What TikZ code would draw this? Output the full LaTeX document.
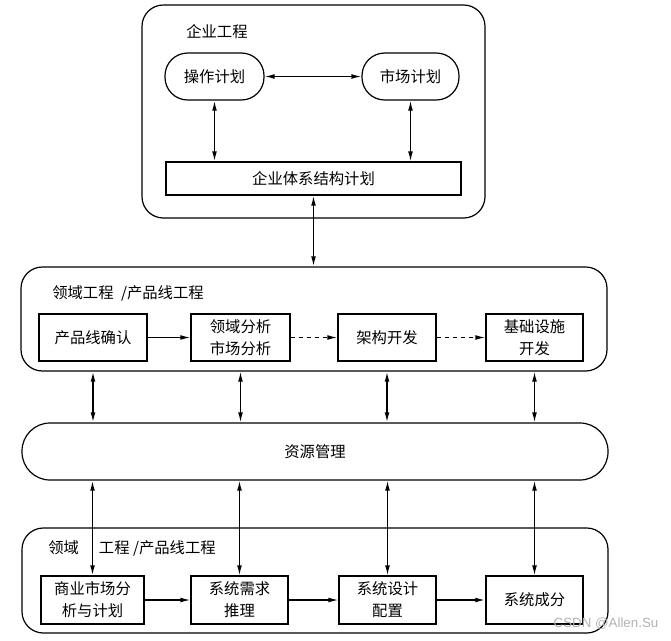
\documentclass[tikz,border=0pt]{standalone}
\usepackage{fontspec}
\usepackage{xcolor}
\setmainfont{Noto Sans CJK SC}
\newfontfamily\markfont{Liberation Sans}
\usetikzlibrary{arrows.meta}

\begin{document}
\begin{tikzpicture}[x=0.75pt,y=0.75pt,yscale=-1,xscale=1,
  every node/.style={font=\fontsize{11.5pt}{16.5pt}\selectfont},
  frame/.style={draw, line width=0.9pt, rounded corners=16pt, inner sep=0pt},
  pill/.style={draw, line width=0.9pt, rounded corners=17pt, minimum height=35.25pt, inner sep=0pt},
  box/.style={draw, line width=0.9pt, inner sep=0pt, align=center},
  link/.style={line width=0.9pt, -{Latex[length=7.5pt,width=3.6pt]}},
  dlink/.style={line width=0.9pt, {Latex[length=7.5pt,width=3.6pt]}-{Latex[length=7.5pt,width=3.6pt]}}
]
\useasboundingbox (0,0) rectangle (671,640);

%Shape: Rounded Rect [id:ent] 
\node [frame, minimum width=257.25pt, minimum height=159.75pt] (ent) at (313.5,111.5) {};
%Shape: Rounded Rect [id:dom] 
\node [frame, minimum width=439.5pt, minimum height=78pt] (dom) at (314,319) {};
%Shape: Rounded Rect [id:res] 
\node [frame, rounded corners=21pt, minimum width=439.5pt, minimum height=42.75pt] (res) at (315,451.5) {资源管理};
%Shape: Rounded Rect [id:app] 
\node [frame, minimum width=439.5pt, minimum height=78.75pt] (app) at (315,580.5) {};

%Shape: Pill [id:op] 
\node [pill, minimum width=74.25pt] (op) at (214.5,76.5) {操作计划};
%Shape: Pill [id:mp] 
\node [pill, minimum width=72.75pt] (mp) at (410.5,76.5) {市场计划};
%Shape: Rectangle [id:ea] 
\node [box, minimum width=221.25pt, minimum height=24.75pt] (ea) at (313.5,178.5) {企业体系结构计划};

%Shape: Rectangle [id:pl] 
\node [box, minimum width=81pt, minimum height=35.25pt] (pl) at (93,337.5) {产品线确认};
%Shape: Rectangle [id:da] 
\node [box, minimum width=74.25pt, minimum height=35.25pt] (da) at (240.5,337.5) {领域分析\\市场分析};
%Shape: Rectangle [id:ad] 
\node [box, minimum width=73.5pt, minimum height=35.25pt] (ad) at (387,337.5) {架构开发};
%Shape: Rectangle [id:inf] 
\node [box, minimum width=72.75pt, minimum height=35.25pt] (inf) at (534.5,337.5) {基础设施\\开发};

%Shape: Rectangle [id:bm] 
\node [box, minimum width=77.25pt, minimum height=36pt] (bm) at (92.5,600) {商业市场分\\析与计划};
%Shape: Rectangle [id:sr] 
\node [box, minimum width=72.75pt, minimum height=36pt] (sr) at (239.5,600) {系统需求\\推理};
%Shape: Rectangle [id:sd] 
\node [box, minimum width=72.75pt, minimum height=36pt] (sd) at (387.5,600) {系统设计\\配置};
%Shape: Rectangle [id:sc] 
\node [box, minimum width=72.75pt, minimum height=36pt] (sc) at (534.5,600) {系统成分};

%Straight Lines [id:top] 
\draw [dlink] (op.east) -- (mp.west) ;
\draw [dlink, line width=1.1pt] (op.south) -- (op.south |- ea.north) ;
\draw [dlink] (mp.south) -- (mp.south |- ea.north) ;
\draw [dlink, line width=1.1pt] (ea.south) -- (ea.south |- dom.north) ;

%Straight Lines [id:mid] 
\draw [link] (pl.east) -- (da.west) ;
\draw [link, dashed] (da.east) -- (ad.west) ;
\draw [link, dashed] (ad.east) -- (inf.west) ;
\draw [dlink, line width=1.1pt] (pl.south |- dom.south) -- (pl.south |- res.north) ;
\draw [dlink] (da.south |- dom.south) -- (da.south |- res.north) ;
\draw [dlink, line width=1.1pt] (ad.south |- dom.south) -- (ad.south |- res.north) ;
\draw [dlink] (inf.south |- dom.south) -- (inf.south |- res.north) ;

%Straight Lines [id:bot] 
\draw [dlink, line width=1.1pt] (res.south -| bm.north) -- (bm.north) ;
\draw [dlink] (res.south -| sr.north) -- (sr.north) ;
\draw [dlink] (res.south -| sd.north) -- (sd.north) ;
\draw [dlink] (res.south -| sc.north) -- (sc.north) ;
\draw [link] (bm.east) -- (sr.west) ;
\draw [link] (sr.east) -- (sd.west) ;
\draw [link, line width=1.2pt] (sd.east) -- (sc.west) ;

% Text Node
\node [anchor=west, inner sep=0.75pt] (entl) at (185,32) {企业工程};
% Text Node
\node [anchor=west, inner sep=0.75pt] (doml) at (51,293) {领域工程\hspace{3pt} /产品线工程};
% Text Node
\node [anchor=west, inner sep=0.75pt] (appl) at (47,548) {领域\hspace{15pt}工程 /产品线工程};
% Text Node
\node [inner sep=0.75pt, text=gray!60, font=\markfont\fontsize{10pt}{12pt}\selectfont] (wm) at (606,624) {CSDN @Allen.Su};

\end{tikzpicture}
\end{document}
